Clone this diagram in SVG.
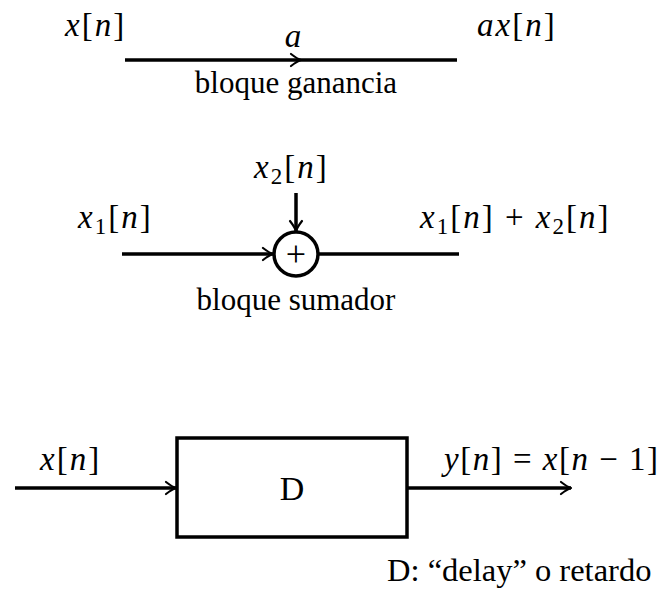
<svg xmlns="http://www.w3.org/2000/svg" xmlns:xlink="http://www.w3.org/1999/xlink" width="662" height="597" viewBox="0 0 662 597">
<style>
text{font-family:"Liberation Serif","DejaVu Serif",serif;font-size:31px;fill:#000}
.m{font-size:33px;letter-spacing:2px}
.i{font-style:italic}
.s{font-size:23px}
.line{stroke:#000;stroke-width:3.5;fill:none}
.arr{stroke:#000;stroke-width:2.2;fill:none;stroke-linecap:round;stroke-linejoin:round}
.node{stroke:#000;stroke-width:3.5;fill:#fff}
</style>
<defs>
<path id="ah" class="arr" d="M-10,-6 Q-3.5,-1 0,0 Q-3.5,1 -10,6"/>
</defs>
<g id="connectors">
<line class="line" x1="125" y1="60" x2="457" y2="60"/>
<use xlink:href="#ah" transform="translate(301,60)"/>
<line class="line" x1="122" y1="254" x2="273" y2="254"/>
<use xlink:href="#ah" transform="translate(273,254)"/>
<line class="line" x1="318" y1="254" x2="459" y2="254"/>
<line class="line" x1="296" y1="193" x2="296" y2="231"/>
<use xlink:href="#ah" transform="translate(296,231) rotate(90)"/>
<line class="line" x1="15" y1="488" x2="176" y2="488"/>
<use xlink:href="#ah" transform="translate(176,488)"/>
<line class="line" x1="407" y1="488" x2="571" y2="488"/>
<use xlink:href="#ah" transform="translate(571,488)"/>
</g>
<g id="gain">
<text class="m" x="65" y="36"><tspan class="i">x</tspan>[<tspan class="i">n</tspan>]</text>
<text class="m i" x="294" y="47" text-anchor="middle">a</text>
<text class="m" x="477" y="36"><tspan class="i">ax</tspan>[<tspan class="i">n</tspan>]</text>
<text x="296" y="93" text-anchor="middle">bloque ganancia</text>
</g>
<g id="summer">
<circle class="node" cx="296" cy="254" r="22"/>
<text x="296" y="266" text-anchor="middle" style="font-size:36px">+</text>
<text class="m" x="254" y="178"><tspan class="i">x</tspan><tspan class="s" dy="6">2</tspan><tspan dy="-6">[</tspan><tspan class="i">n</tspan>]</text>
<text class="m" x="78" y="228"><tspan class="i">x</tspan><tspan class="s" dy="6">1</tspan><tspan dy="-6">[</tspan><tspan class="i">n</tspan>]</text>
<text class="m" x="420" y="228"><tspan class="i">x</tspan><tspan class="s" dy="6">1</tspan><tspan dy="-6">[</tspan><tspan class="i">n</tspan>] + <tspan class="i">x</tspan><tspan class="s" dy="6">2</tspan><tspan dy="-6">[</tspan><tspan class="i">n</tspan>]</text>
<text x="296" y="310" text-anchor="middle">bloque sumador</text>
</g>
<g id="delay">
<rect class="node" x="177" y="438" width="230" height="99"/>
<text x="292" y="500" text-anchor="middle" style="font-size:34px">D</text>
<text class="m" x="40" y="470"><tspan class="i">x</tspan>[<tspan class="i">n</tspan>]</text>
<text class="m" x="444" y="470" style="letter-spacing:1.5px"><tspan class="i">y</tspan>[<tspan class="i">n</tspan>] = <tspan class="i">x</tspan>[<tspan class="i">n</tspan> − 1]</text>
</g>
<g id="note">
<text x="387" y="581" style="font-size:32.5px">D: “delay” o retardo</text>
</g>
</svg>
